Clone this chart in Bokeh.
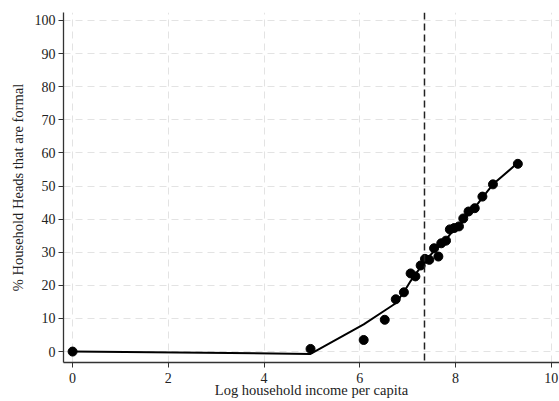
from bokeh.plotting import figure
from bokeh.models import Span, Range1d, FixedTicker
from bokeh.embed import file_html
from bokeh.resources import INLINE

# scatter data (binned means)
bin_x = [0.0, 4.97, 6.08, 6.52, 6.75, 6.92, 7.06, 7.16, 7.27, 7.36, 7.45, 7.55,
         7.64, 7.70, 7.80, 7.88, 7.97, 8.07, 8.16, 8.27, 8.40, 8.56, 8.78, 9.30]
bin_y = [0.0, 0.8, 3.5, 9.6, 15.8, 17.9, 23.6, 22.7, 26.0, 28.0, 27.7, 31.2,
         28.7, 32.7, 33.5, 36.9, 37.3, 37.8, 40.2, 42.3, 43.3, 46.8, 50.5, 56.7]
# fitted line
fit_y = [0.0, -0.7, 8.2, 12.4, 14.6, 18.0, 21.3, 23.3, 25.5, 27.3, 28.8, 30.3,
         31.5, 32.4, 33.8, 35.3, 36.8, 38.0, 39.5, 41.5, 43.5, 46.5, 50.5, 57.0]
cutoff = 7.35
x_ticks = [0, 2, 4, 6, 8, 10]
y_ticks = [0, 10, 20, 30, 40, 50, 60, 70, 80, 90, 100]

FONT = "Liberation Serif"

p = figure(width=559, height=401, output_backend="svg", toolbar_location=None,
           x_range=Range1d(-0.19, 10.17), y_range=Range1d(-3.3, 102.4),
           min_border_left=63, min_border_right=0, min_border_top=12, min_border_bottom=39,
           x_axis_label="Log household income per capita",
           y_axis_label="% Household Heads that are formal")
p.outline_line_color = None
p.background_fill_color = "white"
p.border_fill_color = "white"

p.line(bin_x, fit_y, line_color="black", line_width=2)
p.scatter(bin_x, bin_y, size=9, fill_color="black", line_color="black")
p.add_layout(Span(location=cutoff, dimension="height", line_color="#222222",
                  line_width=1.5, line_dash="7 4"))

for ax in (p.xaxis, p.yaxis):
    ax.axis_line_color = "#333333"
    ax.axis_line_width = 1.3
    ax.major_tick_line_color = "#333333"
    ax.major_tick_out = 5
    ax.major_tick_in = 0
    ax.minor_tick_line_color = None
    ax.major_label_text_font = FONT
    ax.major_label_text_font_size = "14px"
    ax.major_label_text_color = "#222222"
    ax.axis_label_text_font = FONT
    ax.axis_label_text_font_size = "14.5px"
    ax.axis_label_text_font_style = "normal"
    ax.axis_label_text_color = "#222222"
p.xaxis.ticker = FixedTicker(ticks=x_ticks)
p.yaxis.ticker = FixedTicker(ticks=y_ticks)
p.yaxis.major_label_orientation = "horizontal"
p.xaxis.major_label_standoff = 5
p.xaxis.axis_label_standoff = -4
p.yaxis.major_label_standoff = 3
p.yaxis.axis_label_standoff = 6

for g in (p.xgrid, p.ygrid):
    g.grid_line_color = "#e3e3e3"
    g.grid_line_dash = "7 5"
    g.grid_line_width = 1

open("out.html", "w").write(file_html(p, INLINE))
